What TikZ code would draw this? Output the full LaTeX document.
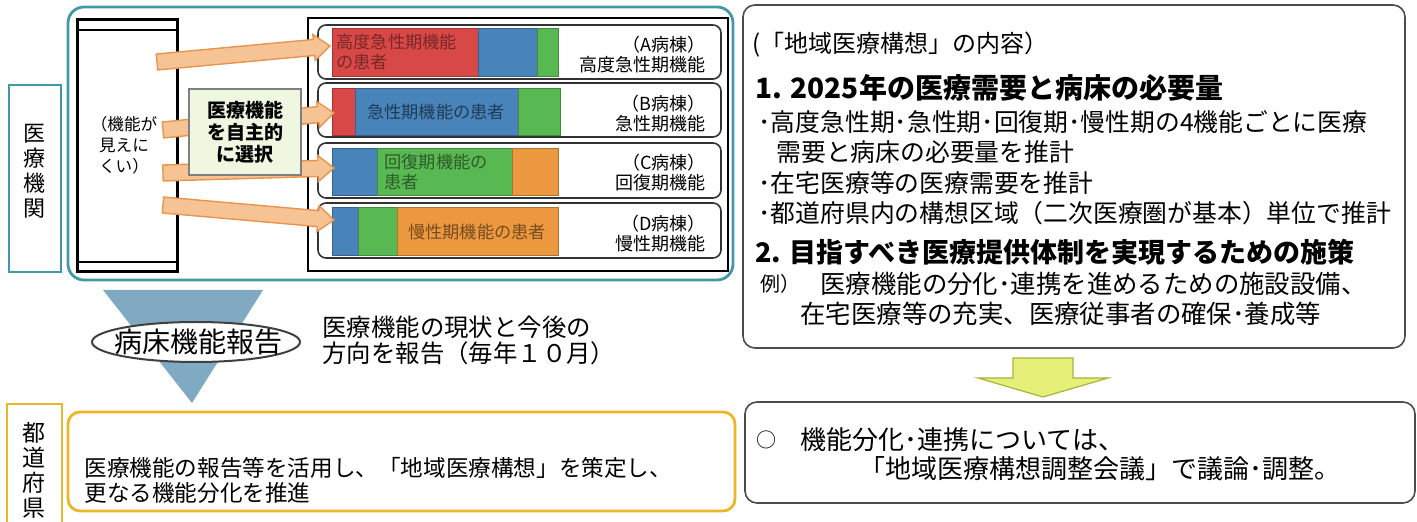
\documentclass[tikz,border=0pt]{standalone}
\usepackage{fontspec}
\setmainfont{Noto Sans CJK JP}
\usetikzlibrary{calc}

\definecolor{tealc}{RGB}{66,152,168}
\definecolor{redc}{RGB}{216,72,70}
\definecolor{bluec}{RGB}{72,132,186}
\definecolor{greenc}{RGB}{88,184,82}
\definecolor{orangec}{RGB}{236,152,62}
\definecolor{arrfill}{RGB}{246,196,148}
\definecolor{arrline}{RGB}{232,148,78}
\definecolor{trifill}{RGB}{128,170,194}
\definecolor{goldc}{RGB}{236,182,44}
\definecolor{selfill}{RGB}{240,247,224}
\definecolor{yelfill}{RGB}{230,240,120}
\definecolor{yelline}{RGB}{170,180,60}

% fat orange arrow from #1 to #2
\newcommand{\fatarrow}[2]{%
  \coordinate (h) at ($(#2)!8pt!(#1)$);
  \filldraw[fatarr] ($(#1)!4pt!90:(#2)$) -- ($(h)!4pt!90:(#2)$) -- ($(h)!6.5pt!90:(#2)$) -- (#2)
    -- ($(h)!6.5pt!-90:(#2)$) -- ($(h)!4pt!-90:(#2)$) -- ($(#1)!4pt!-90:(#2)$) -- cycle;}

\begin{document}
\begin{tikzpicture}[x=0.5pt,y=-0.5pt,
  every node/.style={inner sep=0pt},
  tealline/.style={draw=tealc,line width=1.4pt},
  rowline/.style={draw=black!80,line width=0.8pt,rounded corners=4pt},
  bar/.style={fill=#1,draw=#1!75!black,line width=0.4pt},
  fatarr/.style={fill=arrfill,draw=arrline,line width=0.7pt},
  goldline/.style={draw=goldc,line width=1.4pt},
  boxline/.style={draw=black!70,line width=0.8pt,rounded corners=6pt},
  bartxt/.style={font=\fontsize{8.6}{9.6}\selectfont,align=left},
  byoto/.style={anchor=east,align=right,font=\fontsize{9}{10}\selectfont},
  body/.style={anchor=west,align=left,font=\fontsize{12.4}{15}\selectfont},
  head/.style={anchor=west,font=\bfseries\fontsize{14}{16}\selectfont}]
\useasboundingbox (0,0) rectangle (1417,522);

% 医療機関
\draw[tealline] (9,85) rectangle (61,272);
\node[align=center,font=\fontsize{11}{12.5}\selectfont] (kikan) at (35,171) {医\\療\\機\\関};
\draw[tealline,rounded corners=8pt] (68,7) rectangle (733,280);

% left pillar
\draw[line width=1.5pt] (77,20) rectangle (177,272);
\draw[line width=0.6pt] (77,30) -- (177,30) (77,262) -- (177,262);
\node[align=center,font=\fontsize{8.3}{10.5}\selectfont] (mienai) at (124,145) {（機能が\\見えに\\くい）};

% wards
\draw[line width=1.3pt] (308,18) rectangle (728,271);
\draw[rowline] (318,25) rectangle (721,79);
\draw[rowline] (318,83) rectangle (721,137);
\draw[rowline] (318,143) rectangle (721,198);
\draw[rowline] (318,203) rectangle (721,258);

\filldraw[bar=redc] (332,28) rectangle (478,76);
\filldraw[bar=bluec] (478,28) rectangle (537,76);
\filldraw[bar=greenc] (537,28) rectangle (558,76);
\filldraw[bar=redc] (332,88) rectangle (355,135);
\filldraw[bar=bluec] (355,88) rectangle (518,135);
\filldraw[bar=greenc] (518,88) rectangle (560,135);
\filldraw[bar=bluec] (332,148) rectangle (377,195);
\filldraw[bar=greenc] (377,148) rectangle (512,195);
\filldraw[bar=orangec] (512,148) rectangle (558,195);
\filldraw[bar=bluec] (332,207) rectangle (358,255);
\filldraw[bar=greenc] (358,207) rectangle (397,255);
\filldraw[bar=orangec] (397,207) rectangle (558,255);

\node[bartxt,anchor=west,text=redc!55!black] (txtA) at (336,52) {高度急性期機能\\の患者};
\node[bartxt,text=bluec!45!black] (txtB) at (436,112) {急性期機能の患者};
\node[bartxt,anchor=west,text=greenc!50!black] (txtC) at (384,172) {回復期機能の\\患者};
\node[bartxt,text=orangec!50!black] (txtD) at (477,232) {慢性期機能の患者};

\node[byoto] (lblA) at (706,55) {（A病棟）\\高度急性期機能};
\node[byoto] (lblB) at (706,114) {（B病棟）\\急性期機能};
\node[byoto] (lblC) at (706,173) {（C病棟）\\回復期機能};
\node[byoto] (lblD) at (706,234) {（D病棟）\\慢性期機能};

% arrows
\coordinate (a1s) at (157,62); \coordinate (a1e) at (330,46);
\coordinate (a2s) at (163,130); \coordinate (a2e) at (334,113);
\coordinate (a3s) at (163,173); \coordinate (a3e) at (334,168);
\coordinate (a4s) at (163,205); \coordinate (a4e) at (334,220);
\fatarrow{a1s}{a1e}
\fatarrow{a2s}{a2e}
\fatarrow{a3s}{a3e}
\fatarrow{a4s}{a4e}

\node[draw=black!50,fill=selfill,line width=0.6pt,minimum width=56pt,minimum height=43pt,align=center,
  font=\bfseries\fontsize{9.5}{11}\selectfont] (sentaku) at (245,132) {医療機能\\を自主的\\に選択};

% report
\fill[trifill] (103,290) -- (263,290) -- (192,403) -- cycle;
\filldraw[draw=black!75,fill=white,line width=1pt] (196,342) ellipse [x radius=52pt,y radius=10pt];
\node[font=\fontsize{14}{16}\selectfont] (hokoku) at (198,342) {病床機能報告};
\node[body,font=\fontsize{12.2}{13}\selectfont] (genjo) at (322,340) {医療機能の現状と今後の\\方向を報告（毎年１０月）};

% 都道府県
\draw[goldline] (7,523) -- (7,404) -- (62,404) -- (62,523);
\node[align=center,font=\fontsize{11.5}{12.5}\selectfont] (todofuken) at (34,470) {都\\道\\府\\県};
\draw[goldline,rounded corners=6pt] (68,412) rectangle (735,511);
\node[body,font=\fontsize{11.3}{12.5}\selectfont] (sakutei) at (84,480) {医療機能の報告等を活用し、「地域医療構想」を策定し、\\更なる機能分化を推進};

% right side
\node[boxline,minimum width=331pt,minimum height=171.5pt] (naiyo) at (1074,176.5) {};
\node[body,font=\fontsize{12}{14}\selectfont] (midashi) at (752,45) {(「地域医療構想」の内容）};
\node[head] (h1) at (755,88) {1. 2025年の医療需要と病床の必要量};
\node[body] (b1) at (758,122) {･高度急性期･急性期･回復期･慢性期の4機能ごとに医療};
\node[body] (b1b) at (776,152) {需要と病床の必要量を推計};
\node[body] (b2) at (758,183) {･在宅医療等の医療需要を推計};
\node[body] (b3) at (758,213) {･都道府県内の構想区域（二次医療圏が基本）単位で推計};
\node[head,font=\bfseries\fontsize{13.5}{15}\selectfont] (h2) at (755,252) {2. 目指すべき医療提供体制を実現するための施策};
\node[body,font=\fontsize{10}{12}\selectfont] (rei) at (760,284) {例）};
\node[body,font=\fontsize{12.7}{15}\selectfont] (r1) at (820,284) {医療機能の分化･連携を進めるための施設設備、};
\node[body,font=\fontsize{12.7}{15}\selectfont] (r2) at (800,314) {在宅医療等の充実、医療従事者の確保･養成等};

\coordinate (ys) at (1043,358);
\coordinate (ye) at (1043,397);
\filldraw[fill=yelfill,draw=yelline,line width=0.6pt] (ys) ++(-30,0) -- ++(60,0) -- ++(0,20) -- ++(35,0) -- (ye) -- ++(-65,-19) -- ++(35,0) -- cycle;

\node[boxline,minimum width=335pt,minimum height=50.5pt] (kaigi) at (1080,452.5) {};
\node[body,font=\fontsize{10}{12}\selectfont] (maru) at (756,440) {○};
\node[body,font=\fontsize{13}{15}\selectfont] (k1) at (800,440) {機能分化･連携については、};
\node[body,font=\fontsize{13}{15}\selectfont] (k2) at (859,469) {「地域医療構想調整会議」で議論･調整。};
\end{tikzpicture}
\end{document}
